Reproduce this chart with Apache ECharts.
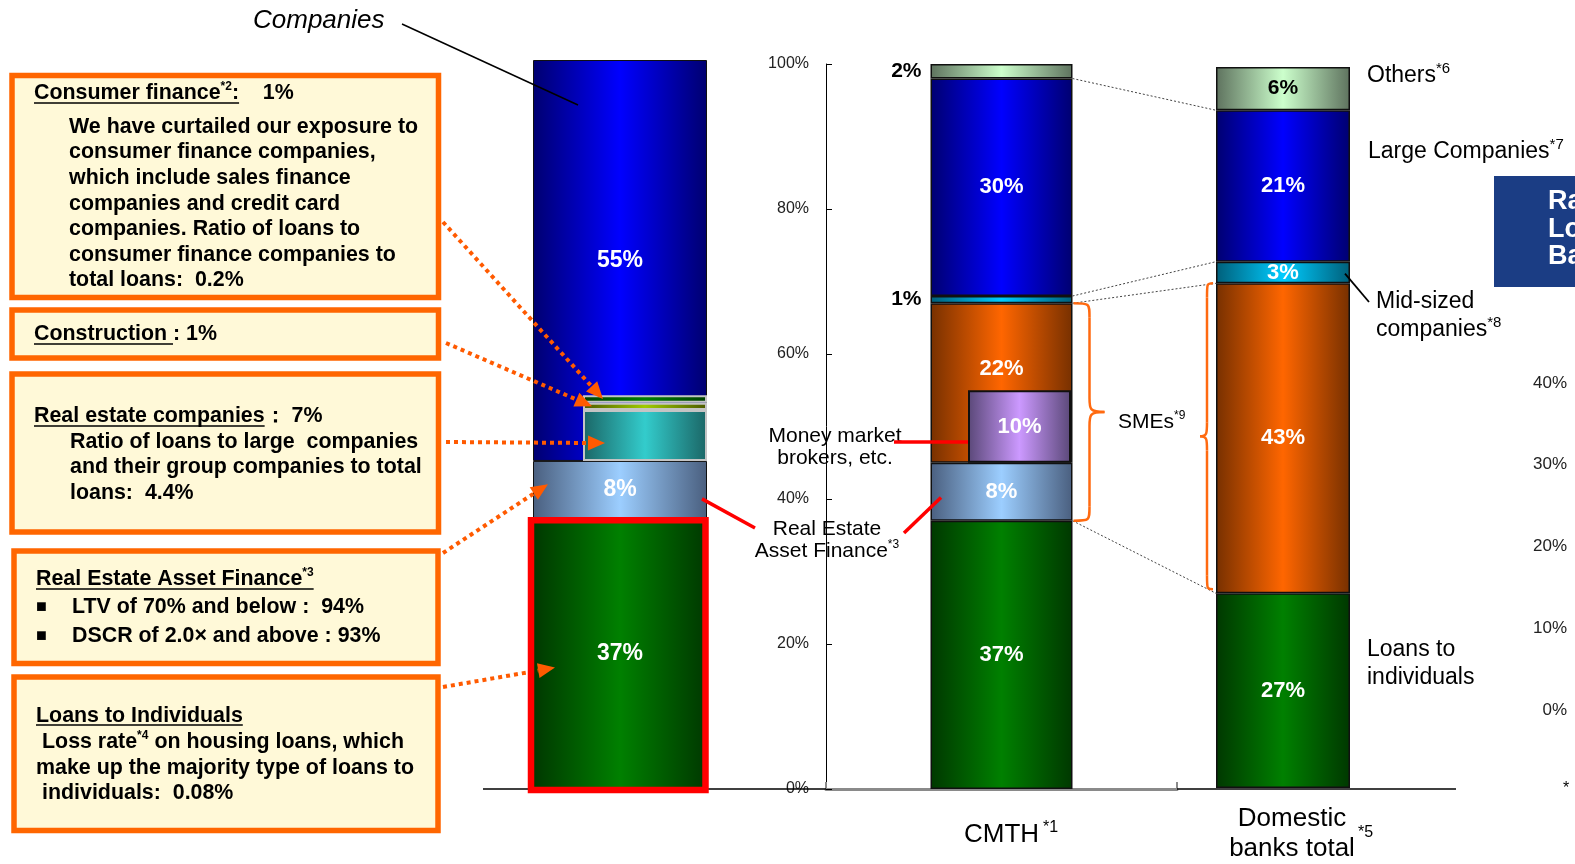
<!DOCTYPE html>
<html>
<head>
<meta charset="utf-8">
<title>Loan portfolio composition</title>
<script src="https://cdn.jsdelivr.net/npm/echarts@6/dist/echarts.min.js"></script>
<style>
  html, body { margin: 0; padding: 0; background: #ffffff; }
  #chart { width: 1575px; height: 864px; }
</style>
</head>
<body>
<div id="chart"></div>
<script>
// ---------------- data (shares of total loans, %) ----------------
const chartCategories = ['CMTH', 'Domestic\nbanks total'];
const yTickLabels = ['0%', '20%', '40%', '60%', '80%', '100%'];
const sideTickLabels = ['0%', '10%', '20%', '30%', '40%'];

// left bar: the whole portfolio, bottom to top
const portfolioSegments = ['Loans to Individuals', 'Real Estate Asset Finance', 'Companies'];
const portfolioValues = [37, 8, 55];
// break-out of selected industries inside "Companies", bottom to top
const detailSegments = ['Real estate companies', 'Construction', 'Consumer finance'];
const detailValues = [7, 1, 1];

// CMTH, bottom to top
const cmthSegments = ['Loans to individuals', 'Real Estate Asset Finance', 'SMEs', 'Mid-sized companies', 'Large Companies', 'Others'];
const cmthValues = [37, 8, 22, 1, 30, 2];
const moneyMarketValue = 10;

// Domestic banks total, bottom to top
const bankSegments = ['Loans to individuals', 'SMEs', 'Mid-sized companies', 'Large Companies', 'Others'];
const bankValues = [27, 43, 3, 21, 6];

// ---------------- styling ----------------
const FF = '"Liberation Sans", Arial, Helvetica, sans-serif';
const shade = {
  individuals:  ['#003800', '#008000'],
  reaf:         ['#4a5f7f', '#9cceff'],
  companies:    ['#000070', '#0000ff'],
  realEstate:   ['#1b6666', '#33cccc'],
  construction: ['#4c5a00', '#a0cc00'],
  consumer:     ['#004000', '#008000'],
  sme:          ['#773000', '#ff6600'],
  mid:          ['#005f7a', '#00ccff'],
  large:        ['#000070', '#0000ff'],
  others:       ['#5e725e', '#ccffcc'],
  money:        ['#5a4878', '#cc99ff']
};
const portfolioKeys = ['individuals', 'reaf', 'companies'];
const detailKeys = ['realEstate', 'construction', 'consumer'];
const cmthKeys = ['individuals', 'reaf', 'sme', 'mid', 'large', 'others'];
const bankKeys = ['individuals', 'sme', 'mid', 'large', 'others'];

function grad(c) {
  return new echarts.graphic.LinearGradient(0, 0, 1, 0, [
    { offset: 0, color: c[0] }, { offset: 0.5, color: c[1] }, { offset: 1, color: c[0] }
  ]);
}

const barLabel = {
  show: true, position: 'inside', color: '#ffffff', fontWeight: 'bold',
  fontSize: 22, fontFamily: FF, formatter: p => p.value + '%'
};

function buildStack(names, values, keys, axis, stack, width, opts) {
  opts = opts || {};
  return names.map((name, i) => ({
    type: 'bar', name: name, stack: stack, xAxisIndex: axis, yAxisIndex: axis,
    barWidth: width, data: [values[i]],
    itemStyle: {
      color: grad(shade[keys[i]]),
      borderColor: opts.border || '#101010',
      borderWidth: opts.borderWidth || 1.5
    },
    label: Object.assign({}, barLabel, opts.label ? opts.label(i) : {}),
    z: 2
  }));
}
function spacer(value, axis, stack, width) {
  return {
    type: 'bar', stack: stack, xAxisIndex: axis, yAxisIndex: axis, barWidth: width,
    data: [value], itemStyle: { color: 'rgba(0,0,0,0)', borderWidth: 0 },
    label: { show: false }, silent: true, z: 2
  };
}
const sum = (arr, n) => arr.slice(0, n).reduce((a, b) => a + b, 0);

const hiddenCat = (grid) => ({ type: 'category', gridIndex: grid, data: ['x'], show: false });
const hiddenVal = (grid) => ({ type: 'value', gridIndex: grid, min: 0, max: 100, show: false });

const option = {
  animation: false,
  backgroundColor: '#ffffff',
  grid: [
    { left: 533, top: 60, width: 174, bottom: 75 },   // portfolio bar
    { left: 583, top: 60, width: 124, bottom: 75 },   // industry break-out
    { left: 826, top: 64, width: 351, bottom: 75 },   // CMTH
    { left: 968, top: 64, width: 103, bottom: 75 },   // money market brokers
    { left: 1216, top: 67, width: 134, bottom: 75 },  // domestic banks
    { left: 1572, top: 383, width: 3, bottom: 154 }   // side scale
  ],
  xAxis: [
    hiddenCat(0),
    hiddenCat(1),
    {
      type: 'category', gridIndex: 2, data: [chartCategories[0]],
      axisLine: { lineStyle: { color: '#8a8a8a', width: 3 } },
      axisTick: { show: true, inside: true, length: 7, lineStyle: { color: '#8a8a8a', width: 2 } },
      axisLabel: { color: '#000', fontSize: 26, fontFamily: FF, margin: 32, lineHeight: 28 }
    },
    hiddenCat(3),
    {
      type: 'category', gridIndex: 4, data: [chartCategories[1]],
      axisLine: { show: false }, axisTick: { show: false },
      axisLabel: { color: '#000', fontSize: 26, fontFamily: FF, margin: 16, lineHeight: 30, padding: [0, 0, 0, 18] }
    },
    hiddenCat(5)
  ],
  yAxis: [
    hiddenVal(0),
    hiddenVal(1),
    {
      type: 'value', gridIndex: 2, min: 0, max: 100, interval: 20, position: 'left',
      axisLine: { show: true, lineStyle: { color: '#000', width: 1 } },
      axisTick: { show: true, inside: true, length: 6, lineStyle: { color: '#000' } },
      splitLine: { show: false },
      axisLabel: { color: '#222', fontSize: 16, fontFamily: FF, margin: 17, formatter: v => yTickLabels[Math.round(v / 20)] }
    },
    hiddenVal(3),
    hiddenVal(4),
    {
      type: 'value', gridIndex: 5, min: 0, max: 40, interval: 10, position: 'left',
      axisLine: { show: false }, axisTick: { show: false }, splitLine: { show: false },
      axisLabel: { color: '#222', fontSize: 17, fontFamily: FF, margin: 5, formatter: v => sideTickLabels[Math.round(v / 10)] }
    }
  ],
  series: [].concat(
    buildStack(portfolioSegments, portfolioValues, portfolioKeys, 0, 'portfolio', '100%', {
      borderWidth: 1, label: () => ({ fontSize: 23 })
    }),
    [spacer(sum(portfolioValues, 2), 1, 'detail', '100%')],
    buildStack(detailSegments, detailValues, detailKeys, 1, 'detail', '100%', {
      border: '#c4c4c4', borderWidth: 2, label: () => ({ show: false })
    }),
    buildStack(cmthSegments, cmthValues, cmthKeys, 2, 'cmth', 142, {
      label: i => {
        const k = cmthKeys[i];
        if (k === 'mid' || k === 'others') return { position: 'left', distance: 9, color: '#000', fontSize: 21 };
        if (k === 'sme') return { offset: [0, -14] };
        return {};
      }
    }),
    [spacer(sum(cmthValues, 2), 3, 'money', '100%')],
    buildStack(['Money market brokers, etc.'], [moneyMarketValue], ['money'], 3, 'money', '100%', { borderWidth: 2 }),
    buildStack(bankSegments, bankValues, bankKeys, 4, 'bank', 134, {
      label: i => (bankKeys[i] === 'others' ? { color: '#000', fontSize: 21 } : {})
    })
  )
};

const chart = echarts.init(document.getElementById('chart'));
chart.setOption(option);

// ---------------- annotations ----------------
const measureCtx = document.createElement('canvas').getContext('2d');
function fontStr(size, bold, italic) {
  return (italic ? 'italic ' : '') + (bold ? 'bold ' : '') + size + 'px ' + FF;
}
function textW(str, font) { measureCtx.font = font; return measureCtx.measureText(str).width; }

const BODY = 21.4;
const G = [];
function text(x, y, str, font, opts) {
  opts = opts || {};
  G.push({
    type: 'text', x: x, y: y, z: 100,
    style: {
      text: str, font: font, fill: opts.fill || '#000',
      textAlign: opts.align || 'left', align: opts.align || 'left',
      textVerticalAlign: 'middle', verticalAlign: 'middle'
    }
  });
}
function line(x1, y1, x2, y2, stroke, width, dash) {
  G.push({
    type: 'line', z: 100, shape: { x1: x1, y1: y1, x2: x2, y2: y2 },
    style: { stroke: stroke, lineWidth: width, lineDash: dash || null, fill: null }
  });
}
// a line of mixed runs: {t, size, bold, dy, u}
function runLine(x, y, parts, opts) {
  opts = opts || {};
  const widths = parts.map(p => textW(p.t, fontStr(p.size || BODY, p.bold !== false)));
  const total = widths.reduce((a, b) => a + b, 0);
  let cx = opts.center ? x - total / 2 : x;
  let uStart = null, uEnd = null;
  parts.forEach((p, i) => {
    text(cx, y + (p.dy || 0), p.t, fontStr(p.size || BODY, p.bold !== false), { fill: opts.fill });
    if (p.u) { if (uStart === null) uStart = cx; uEnd = cx + widths[i]; }
    cx += widths[i];
  });
  if (uStart !== null) line(uStart, y + (opts.uy || 10), uEnd, y + (opts.uy || 10), '#000', 1.5);
}
function box(x, y, w, h) {
  G.push({
    type: 'rect', z: 99, shape: { x: x, y: y, width: w, height: h },
    style: { fill: '#fff9d8', stroke: '#ff6600', lineWidth: 5.5 }
  });
}
function dottedArrow(x1, y1, x2, y2) {
  const a = Math.atan2(y2 - y1, x2 - x1);
  const L = 17, W = 7.5;
  const bx = x2 - L * Math.cos(a), by = y2 - L * Math.sin(a);
  line(x1, y1, bx, by, '#ff5a00', 4, [4, 4]);
  G.push({
    type: 'polygon', z: 101,
    shape: { points: [[x2, y2], [bx - W * Math.sin(a), by + W * Math.cos(a)], [bx + W * Math.sin(a), by - W * Math.cos(a)]] },
    style: { fill: '#ff5a00' }
  });
}
function bez(x1, y1, cx1, cy1, cx2, cy2, x2, y2, stroke, width) {
  G.push({
    type: 'bezierCurve', z: 100,
    shape: { x1: x1, y1: y1, cpx1: cx1, cpy1: cy1, cpx2: cx2, cpy2: cy2, x2: x2, y2: y2 },
    style: { stroke: stroke, lineWidth: width, fill: null }
  });
}
// curly brace attached at x0, spine at xv, point at xt
function brace(x0, xv, xt, top, bottom) {
  const c = '#ff6a10', w = 2.5, r = 14, mid = (top + bottom) / 2;
  bez(x0, top, xv, top, xv, top, xv, top + r, c, w);
  line(xv, top + r, xv, mid - r, c, w);
  bez(xv, mid - r, xv, mid - r * 0.2, xv, mid, xt, mid, c, w);
  bez(xt, mid, xv, mid, xv, mid + r * 0.2, xv, mid + r, c, w);
  line(xv, mid + r, xv, bottom - r, c, w);
  bez(xv, bottom - r, xv, bottom, xv, bottom, x0, bottom, c, w);
}

const pix = (axis, v) => chart.convertToPixel({ xAxisIndex: axis, yAxisIndex: axis }, [0, v]);
const yL = v => pix(0, v)[1];
const yM = v => pix(2, v)[1];
const yR = v => pix(4, v)[1];
const xMid = pix(2, 0)[0], xBank = pix(4, 0)[0];
const mRight = xMid + 71, bLeft = xBank - 67;
const leftX0 = 533;
const base = yM(0);

// baseline
line(483, base, 826, base, '#000', 1.5);
line(1177, base, 1456, base, '#000', 1.5);

// "Companies" caption with leader
text(253, 21, 'Companies', fontStr(26, false, true));
line(402, 24, 578, 105, '#000', 1.5);

// info boxes on the left
box(12, 75.5, 426.5, 222);
runLine(34, 93, [{ t: 'Consumer finance', u: true }, { t: '*2', size: 12, dy: -6, u: true }, { t: ':', u: true }, { t: '    1%' }]);
['We have curtailed our exposure to', 'consumer finance companies,', 'which include sales finance',
 'companies and credit card', 'companies. Ratio of loans to', 'consumer finance companies to',
 'total loans:  0.2%'].forEach((s, i) => text(69, 127 + i * 25.6, s, fontStr(BODY, true)));

box(12, 310, 426.5, 48);
runLine(34, 334, [{ t: 'Construction ', u: true }, { t: ': 1%' }]);

box(12, 374, 426.5, 158);
runLine(34, 416, [{ t: 'Real estate companies', u: true }, { t: '：' }, { t: ' 7%' }]);
['Ratio of loans to large  companies', 'and their group companies to total', 'loans:  4.4%']
  .forEach((s, i) => text(70, 442 + i * 25.5, s, fontStr(BODY, true)));

box(14, 551, 424, 112.5);
runLine(36, 579, [{ t: 'Real Estate Asset Finance', u: true }, { t: '*3', size: 12, dy: -6, u: true }]);
text(36, 607, '■', fontStr(18, true));
text(72, 607, 'LTV of 70% and below :  94%', fontStr(BODY, true));
text(36, 636, '■', fontStr(18, true));
text(72, 636, 'DSCR of 2.0× and above : 93%', fontStr(BODY, true));

box(14, 677, 424, 153.5);
runLine(36, 716, [{ t: 'Loans to Individuals', u: true }], { uy: 9 });
runLine(42, 742, [{ t: 'Loss rate' }, { t: '*4', size: 12, dy: -6 }, { t: ' on housing loans, which' }]);
text(36, 768, 'make up the majority type of loans to', fontStr(BODY, true));
text(42, 793, 'individuals:  0.08%', fontStr(BODY, true));

// arrows from the boxes into the portfolio bar
const dTop = sum(portfolioValues, 2);
dottedArrow(443, 222, 603, yL(dTop + detailValues[0] + detailValues[1] + detailValues[2] / 2));
dottedArrow(446, 343, 592, yL(dTop + detailValues[0] + detailValues[1] / 2));
dottedArrow(446, 442, 605, yL(dTop + detailValues[0] * 0.35));
dottedArrow(443, 553, 548, yL(portfolioValues[0] + portfolioValues[1] * 0.6));
dottedArrow(443, 687, 555, yL(portfolioValues[0] * 0.45));

// red frame around loans to individuals
G.push({
  type: 'rect', z: 102,
  shape: { x: leftX0 - 2, y: yL(portfolioValues[0]) + 1, width: 174.5, height: base - yL(portfolioValues[0]) },
  style: { fill: null, stroke: '#ff0000', lineWidth: 6.5 }
});

// Real Estate Asset Finance callout
line(702, yL(portfolioValues[0] + portfolioValues[1] * 0.35), 755, 528, '#ff0000', 3.5);
line(904, 533, 941, yM(cmthValues[0] + cmthValues[1] * 0.4), '#ff0000', 3.5);
runLine(827, 529, [{ t: 'Real Estate', size: 21, bold: false }], { center: true });
runLine(827, 551, [{ t: 'Asset Finance', size: 21, bold: false }, { t: '*3', size: 12, bold: false, dy: -6 }], { center: true });

// Money market brokers callout
runLine(835, 436, [{ t: 'Money market', size: 21, bold: false }], { center: true });
runLine(835, 458, [{ t: 'brokers, etc.', size: 21, bold: false }], { center: true });
line(894, 442, 968, 442, '#ff0000', 3.5);

// dotted connectors between CMTH and domestic banks
[[5, 4], [4, 3], [3, 2], [1, 1]].forEach(([a, b]) => {
  line(mRight, yM(sum(cmthValues, a)), bLeft, yR(sum(bankValues, b)), '#444', 1, [2, 2]);
});

// SME braces
brace(mRight + 1, mRight + 17, mRight + 32, yM(sum(cmthValues, 3)), yM(sum(cmthValues, 1)));
runLine(1118, 422, [{ t: 'SMEs', size: 21, bold: false }, { t: '*9', size: 12, bold: false, dy: -6 }]);
brace(bLeft - 3, bLeft - 9, bLeft - 16, yR(sum(bankValues, 2)), yR(sum(bankValues, 1)) - 4);

// segment names for the domestic banks bar
runLine(1367, 76, [{ t: 'Others', size: 23, bold: false }, { t: '*6', size: 15, bold: false, dy: -7 }]);
runLine(1368, 152, [{ t: 'Large Companies', size: 23, bold: false }, { t: '*7', size: 15, bold: false, dy: -7 }]);
runLine(1376, 302, [{ t: 'Mid-sized', size: 23, bold: false }]);
runLine(1376, 330, [{ t: 'companies', size: 23, bold: false }, { t: '*8', size: 15, bold: false, dy: -7 }]);
line(1345, yR(sum(bankValues, 2) + bankValues[2] * 0.45), 1369, 302, '#000', 1.8);
runLine(1367, 650, [{ t: 'Loans to', size: 23, bold: false }]);
runLine(1367, 678, [{ t: 'individuals', size: 23, bold: false }]);

// footnote marks on the category names
text(1043, 828, '*1', fontStr(16));
text(1358, 833, '*5', fontStr(16));

// side panel heading and footnote
G.push({ type: 'rect', z: 99, shape: { x: 1494, y: 176, width: 90, height: 111 }, style: { fill: '#1b3d84' } });
text(1548, 202, 'Ra', fontStr(27, true), { fill: '#ffffff' });
text(1548, 230, 'Lo', fontStr(27, true), { fill: '#ffffff' });
text(1548, 257, 'Ba', fontStr(27, true), { fill: '#ffffff' });
text(1563, 789, '*', fontStr(16));

chart.setOption({ graphic: { elements: G } });
</script>
</body>
</html>
